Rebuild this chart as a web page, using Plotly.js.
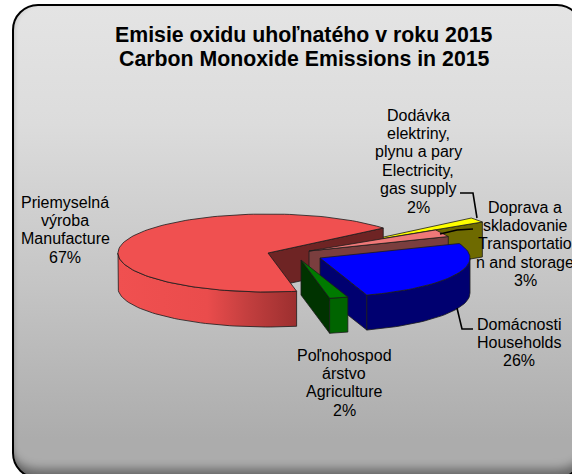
<!DOCTYPE html>
<html>
<head>
<meta charset="utf-8">
<script src="https://cdn.plot.ly/plotly-3.0.1.min.js"></script>
<style>
html,body{margin:0;padding:0;background:#fff;width:572px;height:474px;overflow:hidden}
#frame{position:absolute;left:12px;top:4px;width:571px;height:475px;box-sizing:border-box;border:2px solid #000;border-radius:26px;
background:linear-gradient(#e4e4e4,#dcdcdc 25%,#c4c4c4 60%,#acacac 92%);
box-shadow:inset 0 -16px 10px -8px rgba(0,0,0,.4), inset 3px 0 4px -2px rgba(0,0,0,.12)}
#chart{position:absolute;left:0;top:0;width:572px;height:474px}
</style>
</head>
<body>
<div id="frame"></div>
<div id="chart"></div>
<script>
// Data
const categories = ["Manufacture", "Electricity, gas supply", "Transportation and storage", "Households", "Agriculture"];
const values = [67, 2, 3, 26, 2];
const labelLines = [
  ["Priemyselná","výroba","Manufacture","67%"],
  ["Dodávka","elektriny,","plynu a pary","Electricity,","gas supply","2%"],
  ["Doprava a","skladovanie","Transportatio","n and storage","3%"],
  ["Domácnosti","Households","26%"],
  ["Poľnohospod","árstvo","Agriculture","2%"]
];
const titleLines = ["Emisie oxidu uhoľnatého v roku 2015","Carbon Monoxide Emissions in 2015"];

// Pie geometry and style (axes are scaled in pixels)
const firstAngle = 79, rx = 150, ry = 39, depth = 35;
const apexes = [[268,253],[356,243],[309,251],[320,258],[301,260]];
const topColors = ["#f05050","#ffff00","#f07878","#0000ff","#007a00"];
const faceColors = ["#6e2424","#6e6a00","#7a3e3e","#000070","#003300"];
const wallColors = [null,null,null,"#000070","#006400"];
const labelPos = [[65,202],[418,115],[525,207],[519,324],[344,355]];
const lineStep = 18.4;
const leaders = [
  null,
  [[460,193],[473,193],[477,218]],
  [[473,229],[457,230],[440,234]],
  [[457,308],[462,329],[473,329]],
  null
];
const edge = {color:"#1c1c1c", width:0.8};
const fontFamily = "Liberation Sans, Arial, sans-serif";

const rad = d => d*Math.PI/180;
const px = (a,t) => a[0] + rx*Math.cos(rad(t));
const py = (a,t) => a[1] + ry*Math.sin(rad(t));

function arc(a,t0,t1,dy){
  const n = Math.max(2, Math.ceil(Math.abs(t1-t0)/2));
  const xs=[], ys=[];
  for(let i=0;i<=n;i++){const t=t0+(t1-t0)*i/n; xs.push(px(a,t)); ys.push(py(a,t)+(dy||0));}
  return [xs,ys];
}
function poly(xs,ys,fill,extra){
  return Object.assign({type:"scatter",mode:"lines",x:xs,y:ys,fill:"toself",fillcolor:fill,line:edge,hoverinfo:"skip",showlegend:false},extra||{});
}
// Angle spans from the values
let cur = firstAngle;
const spans = values.map(v=>{const s=[cur,cur+v*3.6]; cur+=v*3.6; return s;});
const norm = t => t>180 ? t-360 : t;

function sliceTraces(i){
  const a = apexes[i], [t0,t1] = spans[i], out=[];
  const ex = px(a,t1), ey = py(a,t1);
  out.push(poly([a[0],ex,ex,a[0],a[0]],[a[1],ey,ey+depth,a[1]+depth,a[1]],faceColors[i]));
  if(i===0 || wallColors[i]){
    const wStart = i===0 ? t0 : Math.max(0,norm(t0));
    const wEnd = i===0 ? 180 : norm(t1);
    const [ux,uy]=arc(a,wStart,wEnd,0), [lx,ly]=arc(a,wEnd,wStart,depth);
    const xs=ux.concat(lx,[ux[0]]), ys=uy.concat(ly,[uy[0]]);
    if(i===0){
      out.push(poly(xs,ys,"#f05050",{fillgradient:{type:"horizontal",colorscale:[[0,"#f05050"],[0.5,"#ea4c4c"],[0.72,"#c43f3f"],[1,"#9c2f2f"]]}}));
    } else out.push(poly(xs,ys,wallColors[i]));
  }
  const [ax,ay]=arc(a,t0,t1,0);
  out.push(poly([a[0]].concat(ax,[a[0]]),[a[1]].concat(ay,[a[1]]),topColors[i]));
  return out;
}
const paintOrder = [1,0,2,3,4];
let traces = [];
paintOrder.forEach(i=>{traces = traces.concat(sliceTraces(i));});
leaders.forEach(l=>{ if(l) traces.push({type:"scatter",mode:"lines",x:l.map(p=>p[0]),y:l.map(p=>p[1]),line:{color:"#000",width:1.6},hoverinfo:"skip",showlegend:false}); });

const annotations = [];
labelLines.forEach((lines,i)=>lines.forEach((t,k)=>annotations.push({text:t,x:labelPos[i][0],y:labelPos[i][1]+k*lineStep,xref:"x",yref:"y",xanchor:"center",yanchor:"middle",showarrow:false,borderpad:0,font:{family:fontFamily,size:16,color:"#000"}})));
titleLines.forEach((t,k)=>annotations.push({text:"<b>"+t+"</b>",x:304,y:35+k*24,xref:"x",yref:"y",xanchor:"center",yanchor:"middle",showarrow:false,borderpad:0,font:{family:fontFamily,size:21.3,color:"#000"}}));

const layout = {
  width:572,height:474,margin:{l:0,r:0,t:0,b:0},
  paper_bgcolor:"rgba(0,0,0,0)",plot_bgcolor:"rgba(0,0,0,0)",
  xaxis:{range:[0,572],visible:false,fixedrange:true},
  yaxis:{range:[474,0],visible:false,fixedrange:true},
  annotations:annotations,showlegend:false
};
Plotly.newPlot("chart",traces,layout,{displayModeBar:false,staticPlot:true});
</script>
</body>
</html>
